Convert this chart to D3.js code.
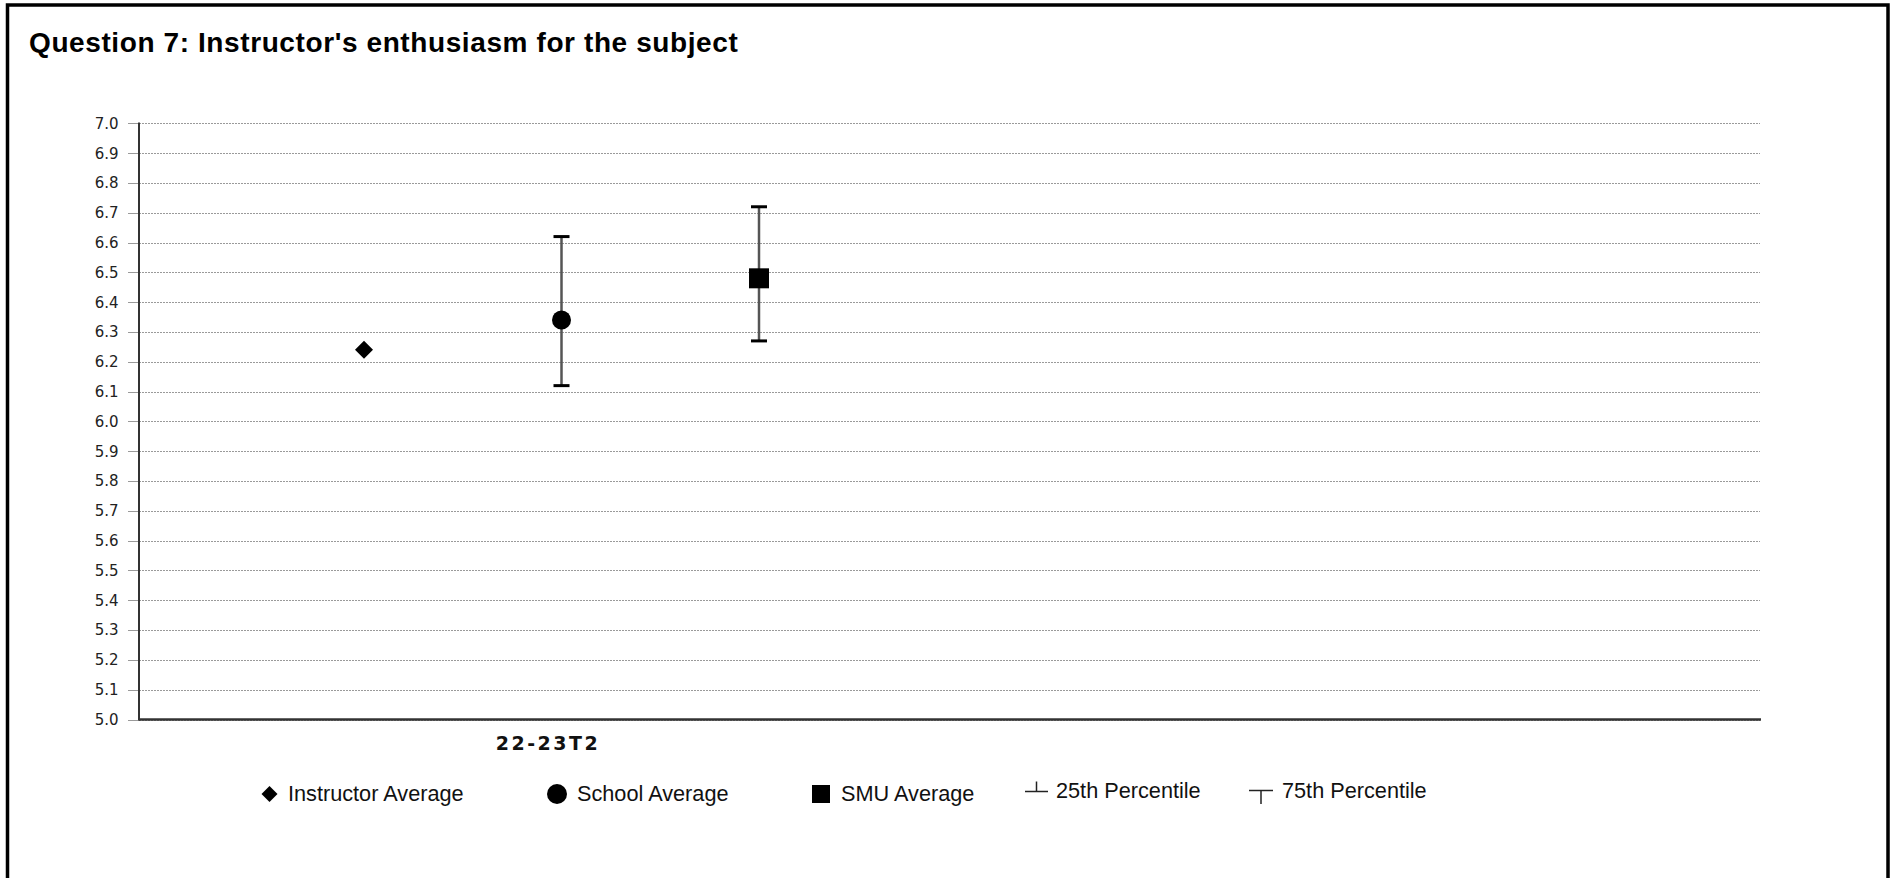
<!DOCTYPE html>
<html>
<head>
<meta charset="utf-8">
<script src="https://cdn.jsdelivr.net/npm/d3@7"></script>
<style>
  html, body { margin: 0; padding: 0; background: #fff; }
  svg { display: block; }
</style>
</head>
<body>
<script>
// ---------------- DATA ----------------
const titleText = "Question 7: Instructor's enthusiasm for the subject";
const categories = ["22-23T2"];
const seriesNames = ["Instructor Average", "School Average", "SMU Average"];
const instructorAvg = [6.24];
const schoolAvg = [6.34];
const smuAvg = [6.48];
const school25 = [6.12];
const school75 = [6.62];
const smu25 = [6.27];
const smu75 = [6.72];
const yTickLabels = ["5.0","5.1","5.2","5.3","5.4","5.5","5.6","5.7","5.8","5.9",
                     "6.0","6.1","6.2","6.3","6.4","6.5","6.6","6.7","6.8","6.9","7.0"];
const legendLabels = ["Instructor Average", "School Average", "SMU Average", "25th Percentile", "75th Percentile"];

// ---------------- LAYOUT ----------------
const W = 1890, H = 878;
const plotLeft = 139, plotRight = 1761, plotTop = 123.3, plotBottom = 719.5;
const legendSymbolX = [269.5, 557, 821, 1036.5, 1261];
const legendTextX = [288, 577, 841, 1056, 1282];
const legendY = 794;

const svg = d3.select("body").append("svg").attr("width", W).attr("height", H);
svg.append("rect").attr("width", W).attr("height", H).attr("fill", "#fff");

// Outer border
svg.append("rect").attr("x", 7.5).attr("y", 5).attr("width", 1880.5).attr("height", 900)
  .attr("fill", "none").attr("stroke", "#000").attr("stroke-width", 3.5);

// Title
svg.append("text").attr("x", 29).attr("y", 51.5)
  .attr("font-family", "'Liberation Sans', Arial, sans-serif").attr("font-weight", "bold")
  .attr("font-size", 28).attr("letter-spacing", 0.6).attr("fill", "#000").text(titleText);

// Scales
const y = d3.scaleLinear().domain([5, 7]).range([plotBottom, plotTop]);
const xBand = d3.scaleBand().domain(categories).range([plotLeft, 955]);
const xSeries = d3.scalePoint().domain(seriesNames).range([225, 620]);
const xPos = (cat, s) => xBand(cat) + xSeries(s);

// Gridlines + tick marks
const grid = svg.append("g");
yTickLabels.forEach(t => {
  const v = +t;
  const yy = Math.round(y(v)) + 0.5;
  grid.append("line").attr("x1", plotLeft).attr("x2", 1760).attr("y1", yy).attr("y2", yy)
    .attr("stroke", "#9a9a9a").attr("stroke-width", 1).attr("stroke-dasharray", "2,1");
  grid.append("line").attr("x1", 128).attr("x2", plotLeft).attr("y1", yy).attr("y2", yy)
    .attr("stroke", "#9a9a9a").attr("stroke-width", 1);
  grid.append("text").attr("x", 118.5).attr("y", y(v)).attr("dy", "0.36em")
    .attr("text-anchor", "end")
    .attr("font-family", "'DejaVu Sans', Verdana, sans-serif").attr("font-size", 15)
    .attr("fill", "#222").text(t);
});

// Error bars
function errorBar(cat, series, lo, hi) {
  const cx = xPos(cat, series);
  svg.append("line").attr("x1", cx).attr("x2", cx).attr("y1", y(hi)).attr("y2", y(lo))
    .attr("stroke", "#555").attr("stroke-width", 2.5);
  [lo, hi].forEach(v => {
    svg.append("line").attr("x1", cx - 8).attr("x2", cx + 8).attr("y1", y(v)).attr("y2", y(v))
      .attr("stroke", "#000").attr("stroke-width", 3);
  });
}
categories.forEach((c, i) => {
  errorBar(c, seriesNames[1], school25[i], school75[i]);
  errorBar(c, seriesNames[2], smu25[i], smu75[i]);
});

// Markers
categories.forEach((c, i) => {
  svg.append("path")
    .attr("d", d3.symbol(d3.symbolSquare, 162)())
    .attr("transform", `translate(${xPos(c, seriesNames[0])},${y(instructorAvg[i])}) rotate(45)`)
    .attr("fill", "#000");
  svg.append("circle").attr("cx", xPos(c, seriesNames[1])).attr("cy", y(schoolAvg[i]))
    .attr("r", 9.5).attr("fill", "#000");
  svg.append("path")
    .attr("d", d3.symbol(d3.symbolSquare, 400)())
    .attr("transform", `translate(${xPos(c, seriesNames[2])},${y(smuAvg[i])})`)
    .attr("fill", "#000");
});

// Axes
svg.append("line").attr("x1", plotLeft).attr("x2", plotLeft).attr("y1", 122.5).attr("y2", plotBottom + 1)
  .attr("stroke", "#333").attr("stroke-width", 2);
svg.append("line").attr("x1", plotLeft).attr("x2", plotRight).attr("y1", plotBottom).attr("y2", plotBottom)
  .attr("stroke", "#333").attr("stroke-width", 2.5);

// Category labels
categories.forEach(c => {
  svg.append("text").attr("x", xBand(c) + xBand.bandwidth() / 2 + 1).attr("y", 750)
    .attr("text-anchor", "middle")
    .attr("font-family", "'DejaVu Sans', Verdana, sans-serif").attr("font-weight", "bold")
    .attr("font-size", 19).attr("letter-spacing", 2.5).attr("fill", "#111").text(c);
});

// Legend
const lg = svg.append("g");
const legendFont = "'Liberation Sans', Arial, sans-serif";
lg.append("path").attr("d", d3.symbol(d3.symbolSquare, 128)())
  .attr("transform", `translate(${legendSymbolX[0]},${legendY}) rotate(45)`).attr("fill", "#000");
lg.append("circle").attr("cx", legendSymbolX[1]).attr("cy", legendY).attr("r", 10).attr("fill", "#000");
lg.append("path").attr("d", d3.symbol(d3.symbolSquare, 324)())
  .attr("transform", `translate(${legendSymbolX[2]},${legendY})`).attr("fill", "#000");
// 25th percentile symbol
lg.append("line").attr("x1", legendSymbolX[3]).attr("x2", legendSymbolX[3]).attr("y1", 781.5).attr("y2", 792)
  .attr("stroke", "#222").attr("stroke-width", 1.5);
lg.append("line").attr("x1", legendSymbolX[3] - 11.5).attr("x2", legendSymbolX[3] + 11.5).attr("y1", 791.5).attr("y2", 791.5)
  .attr("stroke", "#222").attr("stroke-width", 1.5);
// 75th percentile symbol
lg.append("line").attr("x1", legendSymbolX[4] - 12).attr("x2", legendSymbolX[4] + 12).attr("y1", 790.5).attr("y2", 790.5)
  .attr("stroke", "#222").attr("stroke-width", 1.5);
lg.append("line").attr("x1", legendSymbolX[4]).attr("x2", legendSymbolX[4]).attr("y1", 790).attr("y2", 804)
  .attr("stroke", "#222").attr("stroke-width", 1.5);

legendLabels.forEach((t, i) => {
  lg.append("text").attr("x", legendTextX[i]).attr("y", i < 3 ? 801 : 798)
    .attr("font-family", legendFont).attr("font-size", 21.7).attr("fill", "#111").text(t);
});
</script>
</body>
</html>
